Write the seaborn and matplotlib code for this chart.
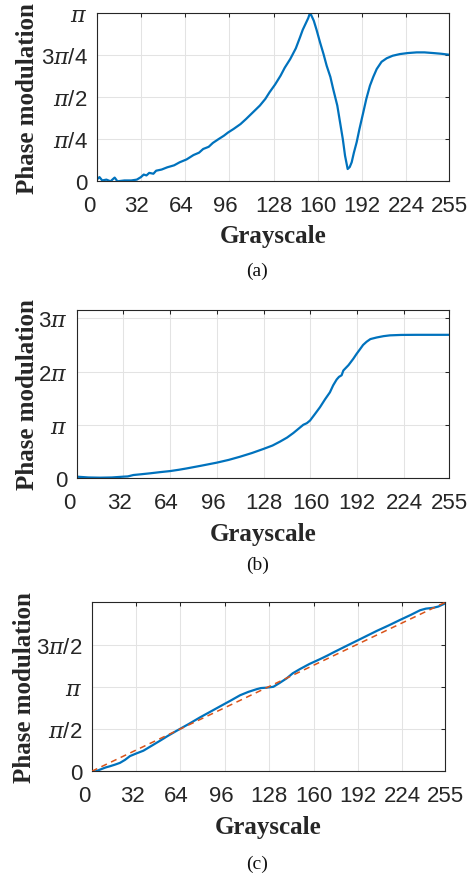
import numpy as np
import matplotlib
matplotlib.use("Agg")
import matplotlib.pyplot as plt
import matplotlib.transforms as mtransforms
import seaborn as sns

# ---------------- data (phase in units of pi) ----------------
gray_a = [0, 2, 4, 7, 10, 12, 13, 15, 20, 25, 29, 32, 34, 36, 38, 41, 43, 47, 51, 56, 60,
          65, 70, 74, 77, 81, 84, 88, 92, 95, 99, 104, 108, 113, 118, 122, 125, 129, 133,
          136, 140, 144, 147, 149, 151, 153, 154, 155, 157, 159, 161.5, 164, 166.3, 169,
          171, 174, 176, 178, 179.6, 181.5, 183, 184.4, 186, 188, 190, 192.8, 195, 197.6,
          200, 202.5, 206, 209.7, 214, 219.3, 225, 231.4, 237, 243.4, 249, 255]
phase_a = [0.01, 0.025, 0.005, 0.01, 0.0, 0.015, 0.022, 0.0, 0.005, 0.005, 0.01, 0.025,
           0.04, 0.035, 0.05, 0.045, 0.063, 0.07, 0.083, 0.095, 0.113, 0.13, 0.156, 0.17,
           0.192, 0.205, 0.228, 0.25, 0.271, 0.29, 0.311, 0.34, 0.37, 0.41, 0.45, 0.49,
           0.529, 0.575, 0.628, 0.675, 0.727, 0.79, 0.855, 0.9, 0.935, 0.97, 0.994, 0.99,
           0.954, 0.9, 0.826, 0.757, 0.687, 0.62, 0.549, 0.45, 0.35, 0.25, 0.152, 0.073,
           0.085, 0.113, 0.17, 0.232, 0.31, 0.41, 0.49, 0.568, 0.62, 0.667, 0.71, 0.731,
           0.746, 0.756, 0.762, 0.766, 0.766, 0.762, 0.758, 0.752]

gray_b = [0, 8, 16, 24, 31.9, 35, 38.8, 44, 50.2, 57, 63.9, 70, 75.3, 85, 95.8, 104, 111.8,
          120, 127.7, 134, 139.1, 144, 148.3, 152, 155.1, 157.5, 159.7, 163, 166.5, 170,
          173.3, 175.5, 177.9, 179.5, 181.3, 182.5, 186, 189.3, 191.5, 193.9, 196, 198.4,
          201, 205.3, 210, 214.4, 222, 232.6, 244, 255]
phase_b = [0.025, 0.01, 0.006, 0.01, 0.025, 0.03, 0.056, 0.07, 0.088, 0.11, 0.13, 0.155,
           0.18, 0.23, 0.288, 0.34, 0.40, 0.47, 0.545, 0.61, 0.683, 0.76, 0.846, 0.93, 1.0,
           1.03, 1.08, 1.2, 1.33, 1.48, 1.61, 1.74, 1.85, 1.9, 1.93, 2.02, 2.12, 2.24, 2.33,
           2.42, 2.5, 2.56, 2.61, 2.64, 2.665, 2.68, 2.688, 2.69, 2.69, 2.69]

gray_c = [0, 3, 6, 10, 13.2, 17, 20.4, 24, 27.6, 32, 37.3, 43, 49.3, 55, 61.3, 70, 78.1,
          85, 92.5, 100, 107, 113, 119, 122, 126.2, 131, 135, 140.6, 145, 150.2, 157, 164.6,
          170, 174.2, 182, 191, 198, 205.5, 214, 222.3, 230, 236.8, 241, 246.4, 250, 255]
phase_c = [0.0, 0.0, 0.02, 0.045, 0.06, 0.08, 0.1, 0.135, 0.18, 0.21, 0.244, 0.30,
           0.362, 0.42, 0.48, 0.56, 0.638, 0.70, 0.768, 0.835, 0.9, 0.94, 0.972, 0.985,
           0.99, 1.0, 1.04, 1.1, 1.16, 1.21, 1.27, 1.327, 1.37, 1.406, 1.47, 1.543,
           1.60, 1.661, 1.725, 1.791, 1.85, 1.906, 1.925, 1.935, 1.95, 1.988]

fit_gray_c = [0, 255]
fit_phase_c = [0.0, 2.0]

xticks = [0, 32, 64, 96, 128, 160, 192, 224, 255]
xtick_labels = ["0", "32", "64", "96", "128", "160", "192", "224", "255"]

PI = r"$\mathit{\pi}$"
yticks_a = [0, 0.25, 0.5, 0.75, 1.0]
ylabels_a = ["0", PI + "/4", PI + "/2", "3" + PI + "/4", PI]
yticks_b = [0, 1, 2, 3]
ylabels_b = ["0", PI, "2" + PI, "3" + PI]
yticks_c = [0, 0.5, 1.0, 1.5]
ylabels_c = ["0", PI + "/2", PI, "3" + PI + "/2"]

captions = ["(a)", "(b)", "(c)"]

# ---------------- style ----------------
sns.set_theme(style="white")
plt.rcParams["font.family"] = ["Liberation Sans", "DejaVu Sans"]
plt.rcParams["mathtext.fontset"] = "custom"
plt.rcParams["mathtext.rm"] = "DejaVu Serif"
plt.rcParams["mathtext.it"] = "DejaVu Serif:italic"

BLUE = "#0072BD"
RED = "#D95319"
AX = "#262626"

fig = plt.figure(figsize=(4.75, 8.79), dpi=100)

W, H = 475.0, 879.0
def add_axes(l, r, t, b):
    return fig.add_axes([l / W, 1 - b / H, (r - l) / W, (b - t) / H])

ax_a = add_axes(96.7, 449.3, 14.0, 182.3)
ax_b = add_axes(76.7, 449.3, 310.7, 479.0)
ax_c = add_axes(91.7, 445.3, 603.3, 772.3)

sns.lineplot(x=gray_a, y=phase_a, ax=ax_a, color=BLUE, lw=1.6, sort=False)
sns.lineplot(x=gray_b, y=phase_b, ax=ax_b, color=BLUE, lw=1.6, sort=False)
sns.lineplot(x=gray_c, y=phase_c, ax=ax_c, color=BLUE, lw=1.6, sort=False)
sns.lineplot(x=fit_gray_c, y=fit_phase_c, ax=ax_c, color=RED, lw=1.1, sort=False,
             linestyle=(0, (4, 3)))
ax_c.lines[-1].set_zorder(3)

settings = [
    (ax_a, yticks_a, ylabels_a, (0, 1.0), -0.251, -0.196, (257.2, 271.7)),
    (ax_b, yticks_b, ylabels_b, (0, 3.162), -0.263, -0.132, (257.7, 565.0)),
    (ax_c, yticks_c, ylabels_c, (0, 2.0), -0.259, -0.191, (257.0, 864.2)),
]

for i, (ax, yt, yl, ylim, xlab_y, ylab_x, cap) in enumerate(settings):
    ax.set_xlim(0, 255)
    ax.set_ylim(*ylim)
    ax.set_xticks(xticks, xtick_labels)
    ax.set_yticks(yt, yl)
    ax.tick_params(axis="both", which="both", direction="in", length=3.2, width=0.75,
                   colors=AX, top=True, right=True, labelsize=16)
    ax.tick_params(axis="x", pad=10.0)
    ax.tick_params(axis="y", pad=6.6)
    ax.grid(True, color="#e3e3e3", lw=0.75)
    ax.set_axisbelow(True)
    for s in ax.spines.values():
        s.set_color(AX)
        s.set_linewidth(0.8)
        s.set_visible(True)
    ax.set_xlabel("Grayscale", fontsize=18, fontweight="bold",
                  family=["Liberation Serif"], color=AX)
    ax.xaxis.set_label_coords(0.5, xlab_y)
    ax.set_ylabel("Phase modulation", fontsize=18, fontweight="bold",
                  family=["Liberation Serif"], color=AX)
    ax.yaxis.set_label_coords(ylab_x, 0.5)
    ax.yaxis.label.set_va("center")
    ax.yaxis.label.set_rotation_mode("anchor")
    # MATLAB-like left offset of short x tick labels
    for lab in ax.get_xticklabels():
        n = len(lab.get_text())
        shift = {1: -7.5, 2: -4.0}.get(n, 0.0)
        if shift:
            lab.set_transform(lab.get_transform() +
                              mtransforms.ScaledTranslation(shift / 100.0, 0, fig.dpi_scale_trans))
    fig.text(cap[0] / W, 1 - cap[1] / H, captions[i], ha="center", va="center",
             fontsize=14, family=["Liberation Serif"], color="#111111")

fig.savefig("out.png", dpi=100)
